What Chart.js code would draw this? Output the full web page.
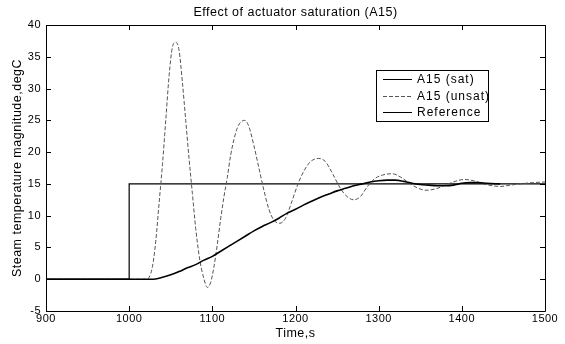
<!DOCTYPE html>
<html lang="en">
<head>
  <meta charset="UTF-8" />
  <title>Effect of actuator saturation (A15)</title>
  <script src="https://cdn.jsdelivr.net/npm/chart.js"></script>
  <style>
    body { margin: 0; padding: 0; background: #fff; }
    #wrap { width: 565px; height: 344px; }
  </style>
</head>
<body>
  <div id="wrap"><canvas id="chart" width="565" height="344"></canvas></div>
  <script>
    // Reference step
    const refTime = [900, 1000, 1000, 1500];
    const refValue = [0, 0, 15, 15];

    // A15 (sat)
    const satTime = [900, 1000, 1027, 1040, 1050, 1060, 1070, 1080, 1090, 1100, 1110, 1120, 1130, 1140,
      1150, 1160, 1170, 1180, 1190, 1200, 1210, 1220, 1230, 1240, 1250, 1260, 1270, 1280, 1290,
      1300, 1310, 1320, 1330, 1340, 1350, 1360, 1370, 1380, 1390, 1400, 1410, 1420, 1430, 1446];
    const satValue = [0, 0, 0, 0.3, 0.7, 1.2, 1.8, 2.3, 3.0, 3.6, 4.4, 5.2, 6.0, 6.8,
      7.6, 8.3, 8.9, 9.6, 10.4, 11.0, 11.7, 12.3, 12.9, 13.4, 13.9, 14.3, 14.7, 15.0, 15.3,
      15.5, 15.6, 15.6, 15.4, 15.1, 14.9, 14.8, 14.7, 14.7, 14.8, 15.1, 15.2, 15.2, 15.1, 15.0];

    // A15 (unsat)
    const unsatTime = [900, 1000, 1020, 1024, 1028, 1032, 1036, 1040, 1044, 1048, 1052, 1056, 1060,
      1064, 1068, 1072, 1076, 1080, 1085, 1090, 1094, 1098, 1102, 1106, 1110, 1114, 1118, 1122,
      1126, 1130, 1134, 1139, 1144, 1150, 1156, 1162, 1168, 1174, 1181, 1188, 1195, 1203, 1210,
      1218, 1228, 1236, 1245, 1254, 1262, 1270, 1278, 1286, 1295, 1305, 1316, 1326, 1336, 1346,
      1357, 1368, 1380, 1392, 1403, 1414, 1426, 1437, 1447, 1458, 1470, 1485, 1500];
    const unsatValue = [0, 0, 0, 0.3, 2, 6, 12, 18, 25, 32, 36.5, 37.3, 36,
      31, 25, 19, 13.5, 8, 3, 0, -1.3, -0.5, 2, 5.5, 9.5, 13, 16, 19.5,
      22, 23.8, 24.7, 25, 24, 21, 17.5, 14, 11, 9.3, 8.8, 9.6, 12, 15, 17,
      18.5, 19, 18.5, 16.5, 14.3, 13, 12.5, 13, 14.5, 15.8, 16.4, 16.6, 16.1, 15.2, 14.4,
      14.0, 14.2, 14.8, 15.4, 15.7, 15.5, 15.0, 14.7, 14.6, 14.8, 15.0, 15.2, 15.3];

    const xTicks = [900, 1000, 1100, 1200, 1300, 1400, 1500];
    const yTicks = [-5, 0, 5, 10, 15, 20, 25, 30, 35, 40];

    function pts(t, v) {
      return t.map((x, i) => ({ x: x, y: v[i] }));
    }

    const FONT = '"Liberation Sans", Arial, sans-serif';

    // MATLAB text is a bit wider than Liberation Sans
    const spacingPlugin = {
      id: 'spacing',
      beforeDraw(chart) { chart.ctx.letterSpacing = '0.5px'; }
    };

    // MATLAB style box with inward ticks + legend inside the axes
    const boxPlugin = {
      id: 'boxTicks',
      afterDatasetsDraw(chart) {
        const { ctx, chartArea: a, scales } = chart;
        ctx.save();
        ctx.strokeStyle = '#000';
        ctx.lineWidth = 1;
        ctx.beginPath();
        ctx.rect(Math.round(a.left) + 0.5, Math.round(a.top) + 0.5,
          Math.round(a.right - a.left), Math.round(a.bottom - a.top));
        xTicks.forEach(v => {
          const x = Math.round(scales.x.getPixelForValue(v)) + 0.5;
          ctx.moveTo(x, a.bottom); ctx.lineTo(x, a.bottom - 5);
          ctx.moveTo(x, a.top); ctx.lineTo(x, a.top + 5);
        });
        yTicks.forEach(v => {
          const y = Math.round(scales.y.getPixelForValue(v)) + 0.5;
          ctx.moveTo(a.left, y); ctx.lineTo(a.left + 5, y);
          ctx.moveTo(a.right, y); ctx.lineTo(a.right - 5, y);
        });
        ctx.stroke();

        // legend
        const lx = 376, ly = 70, lw = 112, lh = 51;
        ctx.fillStyle = '#fff';
        ctx.fillRect(lx, ly, lw, lh);
        ctx.strokeRect(lx + 0.5, ly + 0.5, lw, lh);
        ctx.font = '12px ' + FONT;
        ctx.letterSpacing = '1px';
        ctx.textBaseline = 'middle';
        chart.data.datasets.forEach((ds, i) => {
          const y = ly + 9 + i * 16.5;
          ctx.beginPath();
          ctx.strokeStyle = ds.borderColor;
          ctx.lineWidth = 1;
          ctx.setLineDash(ds.borderDash || []);
          ctx.moveTo(lx + 7, Math.round(y) + 0.5);
          ctx.lineTo(lx + 36, Math.round(y) + 0.5);
          ctx.stroke();
          ctx.setLineDash([]);
          ctx.fillStyle = '#000';
          ctx.fillText(ds.label, lx + 41, y + 1);
        });
        ctx.restore();
      }
    };

    new Chart(document.getElementById('chart'), {
      type: 'line',
      data: {
        datasets: [
          { label: 'A15 (sat)', data: pts(satTime, satValue), borderColor: '#000', borderWidth: 1.6 },
          { label: 'A15 (unsat)', data: pts(unsatTime, unsatValue), borderColor: '#555', borderWidth: 1, borderDash: [4, 2] },
          { label: 'Reference', data: pts(refTime, refValue), borderColor: '#000', borderWidth: 1.2 }
        ]
      },
      options: {
        responsive: false,
        animation: false,
        events: [],
        elements: {
          point: { radius: 0 },
          line: { tension: 0.3, cubicInterpolationMode: 'monotone', fill: false }
        },
        layout: { padding: { left: 0, right: 20, top: 0, bottom: 0 } },
        plugins: {
          legend: { display: false },
          tooltip: { enabled: false },
          title: {
            display: true,
            fullSize: false,
            text: 'Effect of actuator saturation (A15)',
            color: '#000',
            font: { family: FONT, size: 12.5, weight: 'normal' },
            padding: { top: 5, bottom: 5 }
          }
        },
        scales: {
          x: {
            type: 'linear',
            min: 900, max: 1500,
            afterBuildTicks(s) { s.ticks = xTicks.map(v => ({ value: v })); },
            afterFit(s) { s.height = 33; },
            grid: { display: false, drawTicks: false },
            border: { display: false },
            ticks: { color: '#000', font: { family: FONT, size: 11 }, padding: 1, maxRotation: 0,
              callback: v => String(v) },
            title: { display: true, text: 'Time,s', color: '#000', font: { family: FONT, size: 12.5 }, padding: { top: 0, bottom: 3 } }
          },
          y: {
            type: 'linear',
            min: -5, max: 40,
            afterBuildTicks(s) { s.ticks = yTicks.map(v => ({ value: v })); },
            afterFit(s) { s.width = 46; },
            grid: { display: false, drawTicks: false },
            border: { display: false },
            ticks: { color: '#000', font: { family: FONT, size: 11 }, padding: 5,
              callback: v => String(v) },
            title: { display: true, text: 'Steam temperature magnitude,degC', color: '#000', font: { family: FONT, size: 12.5 }, padding: { top: 10, bottom: 0 } }
          }
        }
      },
      plugins: [spacingPlugin, boxPlugin]
    });
  </script>
</body>
</html>
